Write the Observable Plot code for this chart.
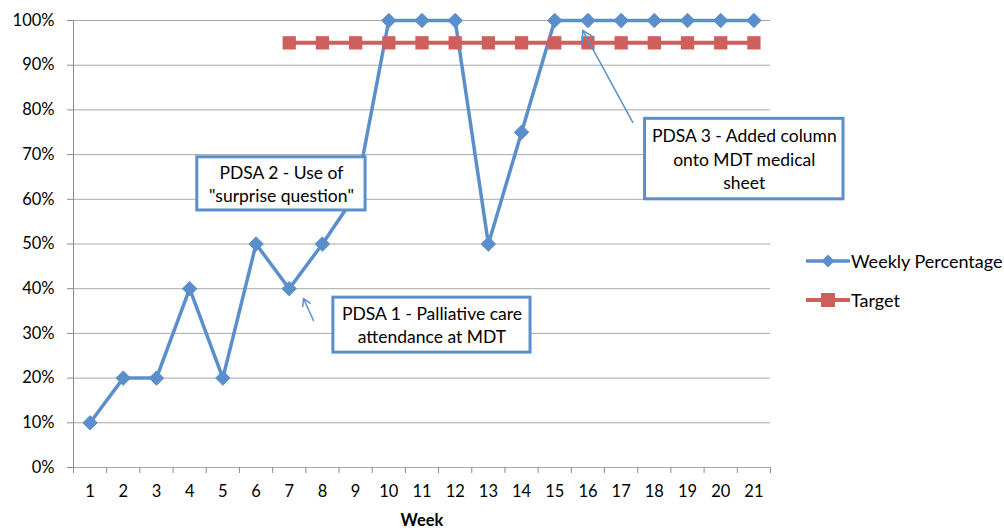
<!DOCTYPE html>
<html>
<head>
<meta charset="utf-8">
<script src="https://cdn.jsdelivr.net/npm/d3@7"></script>
<script src="https://cdn.jsdelivr.net/npm/@observablehq/plot@0.6"></script>
<style>
  html, body { margin: 0; padding: 0; background: #fff; }
  #wrap { position: relative; width: 1004px; height: 530px; font-family: Lato, "Open Sans", sans-serif; }
  #legend { position: absolute; left: 806px; top: 241px; font-size: 18px; color: #000; }
  .item { display: flex; align-items: center; height: 39px; }
  .item svg { margin-right: 1px; }
</style>
</head>
<body>
<div id="wrap"><div id="chart"></div><div id="legend"></div></div>
<script>
const weeks = [1,2,3,4,5,6,7,8,9,10,11,12,13,14,15,16,17,18,19,20,21];
const weeklyPct = [0.10,0.20,0.20,0.40,0.20,0.50,0.40,0.50,0.61,1.00,1.00,1.00,0.50,0.75,1.00,1.00,1.00,1.00,1.00,1.00,1.00];
const targetWeeks = [7,8,9,10,11,12,13,14,15,16,17,18,19,20,21];
const targetPct = targetWeeks.map(() => 0.95);
const yTicks = [0,0.1,0.2,0.3,0.4,0.5,0.6,0.7,0.8,0.9,1.0];
const seriesNames = ["Weekly Percentage", "Target"];

const noteLabels = ["PDSA 1 - Palliative care\nattendance at MDT", "PDSA 2 - Use of\n\"surprise question\"", "PDSA 3 - Added column\nonto MDT medical\nsheet"];
const noteX1 = [8.33, 4.23, 17.72];
const noteX2 = [14.27, 9.30, 23.70];
const noteY1 = [0.257, 0.575, 0.600];
const noteY2 = [0.380, 0.694, 0.780];

const arrowX1 = [7.73, 17.35];
const arrowY1 = [0.329, 0.772];
const arrowX2 = [7.43, 15.84];
const arrowY2 = [0.378, 0.978];

const BLUE = "#5b8fcc", RED = "#cf5f5c";

const weekly = weeks.map((w, i) => ({week: w, value: weeklyPct[i]}));
const target = targetWeeks.map((w, i) => ({week: w, value: targetPct[i]}));
const notes = noteLabels.map((t, i) => ({label: t, x1: noteX1[i], x2: noteX2[i], y1: noteY1[i], y2: noteY2[i]}));
const arrows = arrowX1.map((x, i) => ({x1: x, y1: arrowY1[i], x2: arrowX2[i], y2: arrowY2[i]}));
const boundaries = weeks.map(w => w - 0.5).concat([weeks[weeks.length - 1] + 0.5]);

const chart = Plot.plot({
  width: 1004,
  height: 530,
  marginLeft: 73,
  marginRight: 234,
  marginTop: 20,
  marginBottom: 63,
  style: {fontFamily: "Lato, 'Open Sans', sans-serif", fontSize: "16px", color: "#000", background: "#fff"},
  x: {type: "linear", domain: [0.5, 21.5]},
  y: {domain: [0, 1]},
  marks: [
    Plot.gridY(yTicks.slice(1), {stroke: "#a9a9a9", strokeOpacity: 1, strokeWidth: 1}),
    Plot.ruleX([0.5], {y1: 0, y2: 1, stroke: "#8c8c8c", strokeWidth: 1}),
    Plot.ruleY([0], {stroke: "#a9a9a9", strokeWidth: 1}),
    Plot.axisY(yTicks, {tickFormat: d3.format(".0%"), tickSize: 6, tickPadding: 13, stroke: "#8c8c8c", fill: "#000", fontSize: 16.5, label: null}),
    Plot.axisX(boundaries, {tickSize: 6, tickFormat: () => "", stroke: "#8c8c8c", label: null}),
    Plot.axisX(weeks, {tickSize: 0, tickPadding: 18, fontSize: 16.5, fill: "#000", label: null}),
    Plot.text(["Week"], {frameAnchor: "bottom", dy: 53, fontWeight: "bold", fontSize: 16.5, fill: "#000", lineAnchor: "middle"}),
    Plot.line(weekly, {x: "week", y: "value", stroke: BLUE, strokeWidth: 3.5}),
    Plot.dot(weekly, {x: "week", y: "value", symbol: "diamond2", r: 6.5, fill: BLUE, stroke: BLUE, strokeWidth: 1}),
    Plot.line(target, {x: "week", y: "value", stroke: RED, strokeWidth: 4}),
    Plot.dot(target, {x: "week", y: "value", symbol: "square", r: 7.5, fill: RED, stroke: "none"}),
    Plot.arrow(arrows, {x1: "x1", y1: "y1", x2: "x2", y2: "y2", stroke: BLUE, strokeWidth: 1.5, headLength: 13}),
    Plot.rect(notes, {x1: "x1", x2: "x2", y1: "y1", y2: "y2", fill: "#fff", stroke: BLUE, strokeWidth: 3, clip: false}),
    Plot.text(notes, {x: d => (d.x1 + d.x2) / 2, y: d => (d.y1 + d.y2) / 2, dy: -1, text: "label", fontSize: 17.5, fill: "#000", lineHeight: 1.33, textAnchor: "middle"})
  ]
});
document.getElementById("chart").appendChild(chart);

const legend = document.getElementById("legend");
const swatches = [
  `<svg width="44" height="20"><line x1="0" y1="10" x2="44" y2="10" stroke="${BLUE}" stroke-width="3.5"/><path d="M22,3.5 L28.5,10 L22,16.5 L15.5,10 Z" fill="${BLUE}"/></svg>`,
  `<svg width="44" height="20"><line x1="0" y1="10" x2="44" y2="10" stroke="${RED}" stroke-width="4"/><rect x="15" y="3" width="14" height="14" fill="${RED}"/></svg>`
];
seriesNames.forEach((name, i) => {
  const div = document.createElement("div");
  div.className = "item";
  div.innerHTML = swatches[i] + `<span>${name}</span>`;
  legend.appendChild(div);
});
</script>
</body>
</html>
